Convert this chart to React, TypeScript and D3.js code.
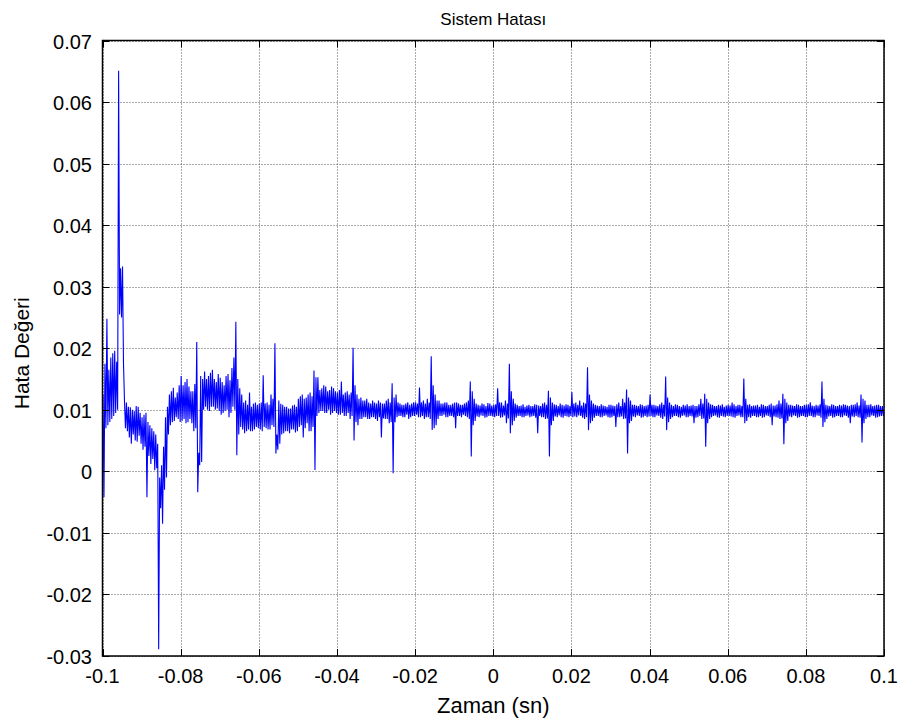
import React from "react";
import * as d3 from "d3";

// Axis ticks
const xTicks = [-0.1, -0.08, -0.06, -0.04, -0.02, 0, 0.02, 0.04, 0.06, 0.08, 0.1];
const xTickLabels = ["-0.1", "-0.08", "-0.06", "-0.04", "-0.02", "0", "0.02", "0.04", "0.06", "0.08", "0.1"];
const yTicks = [-0.03, -0.02, -0.01, 0, 0.01, 0.02, 0.03, 0.04, 0.05, 0.06, 0.07];
const yTickLabels = ["-0.03", "-0.02", "-0.01", "0", "0.01", "0.02", "0.03", "0.04", "0.05", "0.06", "0.07"];

// Signal: every 1 ms window starting at -0.1 s holds two high/low swings (A = first half, B = second half)
const windowStart = -0.1;
const windowWidth = 0.001;
const errHighA = [
  0.0125, 0.0248, 0.0185, 0.0196, 0.0651, 0.0333, 0.0112, 0.0104, 0.0098, 0.0105, 0.0088, 0.0095, 0.0075, 0.0065, 0.0045, 0.0010, 0.0088, 0.0125, 0.0136, 0.0128,
  0.0155, 0.0145, 0.0138, 0.0130, 0.0210, 0.0155, 0.0162, 0.0155, 0.0165, 0.0145, 0.0152, 0.0140, 0.0158, 0.0168, 0.0243, 0.0135, 0.0112, 0.0108, 0.0105, 0.0112,
  0.0110, 0.0156, 0.0112, 0.0125, 0.0208, 0.0115, 0.0108, 0.0105, 0.0102, 0.0108, 0.0118, 0.0125, 0.0120, 0.0128, 0.0164, 0.0153, 0.0135, 0.0138, 0.0132, 0.0135,
  0.0128, 0.0146, 0.0128, 0.0125, 0.0201, 0.0125, 0.0120, 0.0115, 0.0112, 0.0115, 0.0110, 0.0112, 0.0110, 0.0118, 0.0143, 0.0125, 0.0110, 0.0108, 0.0112, 0.0110,
  0.0112, 0.0136, 0.0115, 0.0118, 0.0187, 0.0125, 0.0115, 0.0110, 0.0112, 0.0108, 0.0112, 0.0110, 0.0108, 0.0112, 0.0146, 0.0118, 0.0108, 0.0110, 0.0106, 0.0110,
  0.0108, 0.0135, 0.0112, 0.0115, 0.0175, 0.0118, 0.0108, 0.0107, 0.0105, 0.0108, 0.0106, 0.0108, 0.0106, 0.0112, 0.0131, 0.0112, 0.0108, 0.0110, 0.0107, 0.0108,
  0.0129, 0.0112, 0.0115, 0.0112, 0.0169, 0.0115, 0.0108, 0.0106, 0.0107, 0.0105, 0.0108, 0.0106, 0.0112, 0.0118, 0.0133, 0.0115, 0.0108, 0.0106, 0.0108, 0.0107,
  0.0125, 0.0108, 0.0106, 0.0112, 0.0154, 0.0112, 0.0106, 0.0108, 0.0105, 0.0107, 0.0106, 0.0108, 0.0106, 0.0118, 0.0126, 0.0112, 0.0108, 0.0106, 0.0107, 0.0105,
  0.0108, 0.0112, 0.0106, 0.0108, 0.0151, 0.0108, 0.0106, 0.0107, 0.0105, 0.0108, 0.0106, 0.0110, 0.0107, 0.0115, 0.0126, 0.0112, 0.0108, 0.0106, 0.0108, 0.0106,
  0.0108, 0.0112, 0.0106, 0.0107, 0.0146, 0.0108, 0.0106, 0.0108, 0.0106, 0.0107, 0.0108, 0.0106, 0.0108, 0.0112, 0.0125, 0.0115, 0.0108, 0.0106, 0.0108, 0.0106,
];
const errLowA = [
  -0.0042, 0.0075, 0.0085, 0.0095, 0.0255, 0.0175, 0.0065, 0.0045, 0.0050, 0.0058, 0.0035, -0.0042, 0.0012, 0.0002, -0.0289, -0.0085, -0.0010, 0.0075, 0.0082, 0.0085,
  0.0082, 0.0078, 0.0085, 0.0065, -0.0034, 0.0015, 0.0105, 0.0098, 0.0105, 0.0102, 0.0092, 0.0098, 0.0088, 0.0105, 0.0026, 0.0072, 0.0062, 0.0068, 0.0065, 0.0072,
  0.0068, 0.0072, 0.0068, 0.0075, 0.0029, 0.0045, 0.0062, 0.0065, 0.0068, 0.0063, 0.0072, 0.0055, 0.0078, 0.0065, 0.0002, 0.0095, 0.0098, 0.0095, 0.0092, 0.0098,
  0.0092, 0.0095, 0.0090, 0.0085, 0.0050, 0.0075, 0.0085, 0.0088, 0.0085, 0.0088, 0.0082, 0.0055, 0.0085, 0.0078, -0.0003, 0.0088, 0.0090, 0.0088, 0.0085, 0.0090,
  0.0092, 0.0088, 0.0085, 0.0088, 0.0067, 0.0075, 0.0090, 0.0092, 0.0088, 0.0090, 0.0070, 0.0090, 0.0092, 0.0088, 0.0024, 0.0082, 0.0088, 0.0090, 0.0088, 0.0090,
  0.0088, 0.0090, 0.0088, 0.0078, 0.0062, 0.0082, 0.0090, 0.0088, 0.0090, 0.0088, 0.0090, 0.0062, 0.0088, 0.0085, 0.0024, 0.0082, 0.0088, 0.0088, 0.0090, 0.0088,
  0.0088, 0.0088, 0.0090, 0.0085, 0.0067, 0.0082, 0.0090, 0.0088, 0.0090, 0.0088, 0.0088, 0.0072, 0.0088, 0.0085, 0.0029, 0.0082, 0.0088, 0.0090, 0.0088, 0.0088,
  0.0090, 0.0088, 0.0090, 0.0085, 0.0067, 0.0085, 0.0090, 0.0088, 0.0090, 0.0088, 0.0090, 0.0078, 0.0088, 0.0085, 0.0040, 0.0085, 0.0090, 0.0088, 0.0090, 0.0088,
  0.0090, 0.0088, 0.0090, 0.0088, 0.0078, 0.0088, 0.0090, 0.0088, 0.0090, 0.0088, 0.0090, 0.0075, 0.0088, 0.0085, 0.0044, 0.0082, 0.0088, 0.0090, 0.0088, 0.0090,
  0.0088, 0.0090, 0.0088, 0.0090, 0.0072, 0.0085, 0.0090, 0.0088, 0.0090, 0.0088, 0.0090, 0.0078, 0.0088, 0.0088, 0.0047, 0.0085, 0.0088, 0.0090, 0.0088, 0.0090,
];
const errHighB = [
  0.0175, 0.0165, 0.0192, 0.0178, 0.0330, 0.0115, 0.0105, 0.0100, 0.0106, 0.0095, 0.0092, 0.0080, 0.0070, 0.0060, -0.0010, 0.0040, 0.0105, 0.0130, 0.0120, 0.0140,
  0.0140, 0.0150, 0.0130, 0.0142, 0.0030, 0.0150, 0.0150, 0.0160, 0.0150, 0.0158, 0.0145, 0.0155, 0.0148, 0.0185, 0.0150, 0.0125, 0.0115, 0.0128, 0.0110, 0.0108,
  0.0112, 0.0110, 0.0108, 0.0118, 0.0060, 0.0110, 0.0105, 0.0102, 0.0107, 0.0105, 0.0122, 0.0118, 0.0125, 0.0122, 0.0153, 0.0132, 0.0140, 0.0130, 0.0138, 0.0130,
  0.0132, 0.0125, 0.0130, 0.0128, 0.0140, 0.0118, 0.0115, 0.0118, 0.0110, 0.0112, 0.0115, 0.0110, 0.0115, 0.0112, 0.0120, 0.0112, 0.0108, 0.0110, 0.0108, 0.0112,
  0.0110, 0.0112, 0.0110, 0.0112, 0.0140, 0.0115, 0.0110, 0.0112, 0.0108, 0.0110, 0.0112, 0.0108, 0.0110, 0.0115, 0.0130, 0.0110, 0.0107, 0.0109, 0.0111, 0.0107,
  0.0109, 0.0112, 0.0107, 0.0110, 0.0130, 0.0110, 0.0106, 0.0109, 0.0107, 0.0106, 0.0109, 0.0107, 0.0110, 0.0108, 0.0120, 0.0109, 0.0106, 0.0108, 0.0109, 0.0106,
  0.0110, 0.0108, 0.0107, 0.0110, 0.0125, 0.0110, 0.0107, 0.0109, 0.0106, 0.0108, 0.0107, 0.0109, 0.0106, 0.0112, 0.0120, 0.0108, 0.0107, 0.0109, 0.0106, 0.0108,
  0.0108, 0.0107, 0.0109, 0.0108, 0.0120, 0.0108, 0.0109, 0.0106, 0.0108, 0.0109, 0.0107, 0.0106, 0.0109, 0.0110, 0.0118, 0.0109, 0.0106, 0.0108, 0.0109, 0.0107,
  0.0107, 0.0109, 0.0108, 0.0106, 0.0118, 0.0109, 0.0107, 0.0108, 0.0109, 0.0106, 0.0108, 0.0107, 0.0109, 0.0110, 0.0118, 0.0108, 0.0107, 0.0109, 0.0106, 0.0108,
  0.0109, 0.0107, 0.0108, 0.0109, 0.0118, 0.0107, 0.0109, 0.0106, 0.0108, 0.0109, 0.0107, 0.0108, 0.0109, 0.0107, 0.0118, 0.0108, 0.0109, 0.0107, 0.0108, 0.0106,
];
const errLowB = [
  0.0070, 0.0080, 0.0090, 0.0100, 0.0250, 0.0070, 0.0055, 0.0060, 0.0048, 0.0045, 0.0040, 0.0025, 0.0020, 0.0005, -0.0060, -0.0030, 0.0060, 0.0080, 0.0088, 0.0080,
  0.0085, 0.0080, 0.0078, 0.0070, 0.0010, 0.0100, 0.0100, 0.0105, 0.0100, 0.0098, 0.0095, 0.0100, 0.0095, 0.0100, 0.0060, 0.0068, 0.0065, 0.0065, 0.0068, 0.0070,
  0.0065, 0.0070, 0.0068, 0.0072, 0.0035, 0.0060, 0.0065, 0.0062, 0.0068, 0.0065, 0.0075, 0.0070, 0.0065, 0.0072, 0.0090, 0.0098, 0.0095, 0.0100, 0.0095, 0.0095,
  0.0092, 0.0090, 0.0095, 0.0090, 0.0080, 0.0085, 0.0088, 0.0085, 0.0088, 0.0085, 0.0088, 0.0086, 0.0085, 0.0080, 0.0080, 0.0090, 0.0088, 0.0092, 0.0088, 0.0090,
  0.0088, 0.0090, 0.0088, 0.0085, 0.0070, 0.0085, 0.0090, 0.0088, 0.0090, 0.0088, 0.0090, 0.0088, 0.0090, 0.0085, 0.0075, 0.0089, 0.0091, 0.0087, 0.0090, 0.0089,
  0.0090, 0.0087, 0.0091, 0.0086, 0.0075, 0.0087, 0.0090, 0.0088, 0.0091, 0.0089, 0.0087, 0.0090, 0.0088, 0.0086, 0.0075, 0.0089, 0.0091, 0.0087, 0.0089, 0.0090,
  0.0089, 0.0091, 0.0087, 0.0088, 0.0078, 0.0087, 0.0090, 0.0088, 0.0091, 0.0087, 0.0090, 0.0088, 0.0089, 0.0086, 0.0078, 0.0089, 0.0091, 0.0087, 0.0090, 0.0089,
  0.0088, 0.0091, 0.0087, 0.0089, 0.0080, 0.0088, 0.0090, 0.0087, 0.0091, 0.0088, 0.0089, 0.0087, 0.0090, 0.0086, 0.0078, 0.0088, 0.0091, 0.0087, 0.0089, 0.0090,
  0.0089, 0.0087, 0.0091, 0.0088, 0.0082, 0.0087, 0.0090, 0.0088, 0.0087, 0.0091, 0.0088, 0.0089, 0.0087, 0.0086, 0.0078, 0.0089, 0.0091, 0.0087, 0.0090, 0.0088,
  0.0090, 0.0088, 0.0091, 0.0087, 0.0080, 0.0089, 0.0087, 0.0090, 0.0088, 0.0091, 0.0087, 0.0089, 0.0090, 0.0087, 0.0078, 0.0088, 0.0091, 0.0087, 0.0089, 0.0090,
];

const W = 900;
const H = 724;
const M = { left: 102.5, right: 884, top: 40.5, bottom: 656 };
const FONT = "'Liberation Sans', Arial, Helvetica, sans-serif";

export default function App() {
  const x = d3.scaleLinear().domain([-0.1, 0.1]).range([M.left, M.right]);
  const y = d3.scaleLinear().domain([-0.03, 0.07]).range([M.bottom, M.top]);

  const pts: [number, number][] = [];
  errHighA.forEach((hi, i) => {
    const t0 = windowStart + i * windowWidth;
    pts.push([t0 + windowWidth * 0.125, hi]);
    pts.push([t0 + windowWidth * 0.375, errLowA[i]]);
    pts.push([t0 + windowWidth * 0.625, errHighB[i]]);
    pts.push([t0 + windowWidth * 0.875, errLowB[i]]);
  });
  const line = d3
    .line<[number, number]>()
    .x((d) => x(d[0]))
    .y((d) => y(d[1]));

  const tickLen = 7;

  return (
    <svg
      width={W}
      height={H}
      style={{ position: "absolute", left: 0, top: 0, background: "#fff" }}
      fontFamily={FONT}
    >
      <rect x={0} y={0} width={W} height={H} fill="#fff" />
      {/* grid */}
      {xTicks.map((t, i) => (
        <line
          key={"gx" + i}
          x1={Math.round(x(t)) + 0.5}
          x2={Math.round(x(t)) + 0.5}
          y1={M.top}
          y2={M.bottom}
          stroke="#555"
          strokeWidth={1}
          strokeDasharray="1,2"
        />
      ))}
      {yTicks.map((t, i) => (
        <line
          key={"gy" + i}
          y1={Math.round(y(t)) + 0.5}
          y2={Math.round(y(t)) + 0.5}
          x1={M.left}
          x2={M.right}
          stroke="#555"
          strokeWidth={1}
          strokeDasharray="1,2"
        />
      ))}
      <clipPath id="plotClip">
        <rect x={M.left} y={M.top} width={M.right - M.left} height={M.bottom - M.top} />
      </clipPath>
      <path d={line(pts) || ""} fill="none" stroke="#0000ff" strokeWidth={1.1} clipPath="url(#plotClip)" />
      {/* ticks */}
      {xTicks.map((t, i) => (
        <g key={"tx" + i}>
          <line x1={Math.round(x(t)) + 0.5} x2={Math.round(x(t)) + 0.5} y1={M.bottom} y2={M.bottom - tickLen} stroke="#000" />
          <line x1={Math.round(x(t)) + 0.5} x2={Math.round(x(t)) + 0.5} y1={M.top} y2={M.top + tickLen} stroke="#000" />
          <text x={x(t)} y={683} textAnchor="middle" fontSize={20} fill="#000">
            {xTickLabels[i]}
          </text>
        </g>
      ))}
      {yTicks.map((t, i) => (
        <g key={"ty" + i}>
          <line y1={Math.round(y(t)) + 0.5} y2={Math.round(y(t)) + 0.5} x1={M.left} x2={M.left + tickLen} stroke="#000" />
          <line y1={Math.round(y(t)) + 0.5} y2={Math.round(y(t)) + 0.5} x1={M.right} x2={M.right - tickLen} stroke="#000" />
          <text x={92} y={y(t) + 8} textAnchor="end" fontSize={20} fill="#000">
            {yTickLabels[i]}
          </text>
        </g>
      ))}
      {/* box */}
      <rect
        x={M.left}
        y={M.top}
        width={M.right - M.left}
        height={M.bottom - M.top}
        fill="none"
        stroke="#000"
        strokeWidth={1.5}
      />
      <text x={(M.left + M.right) / 2} y={25} textAnchor="middle" fontSize={17} fill="#000">
        Sistem Hatası
      </text>
      <text x={(M.left + M.right) / 2} y={713} textAnchor="middle" fontSize={22} fill="#000">
        Zaman (sn)
      </text>
      <text
        transform={`translate(29, ${(M.top + M.bottom) / 2 + 5}) rotate(-90)`}
        textAnchor="middle"
        fontSize={21}
        fill="#000"
      >
        Hata Değeri
      </text>
    </svg>
  );
}
